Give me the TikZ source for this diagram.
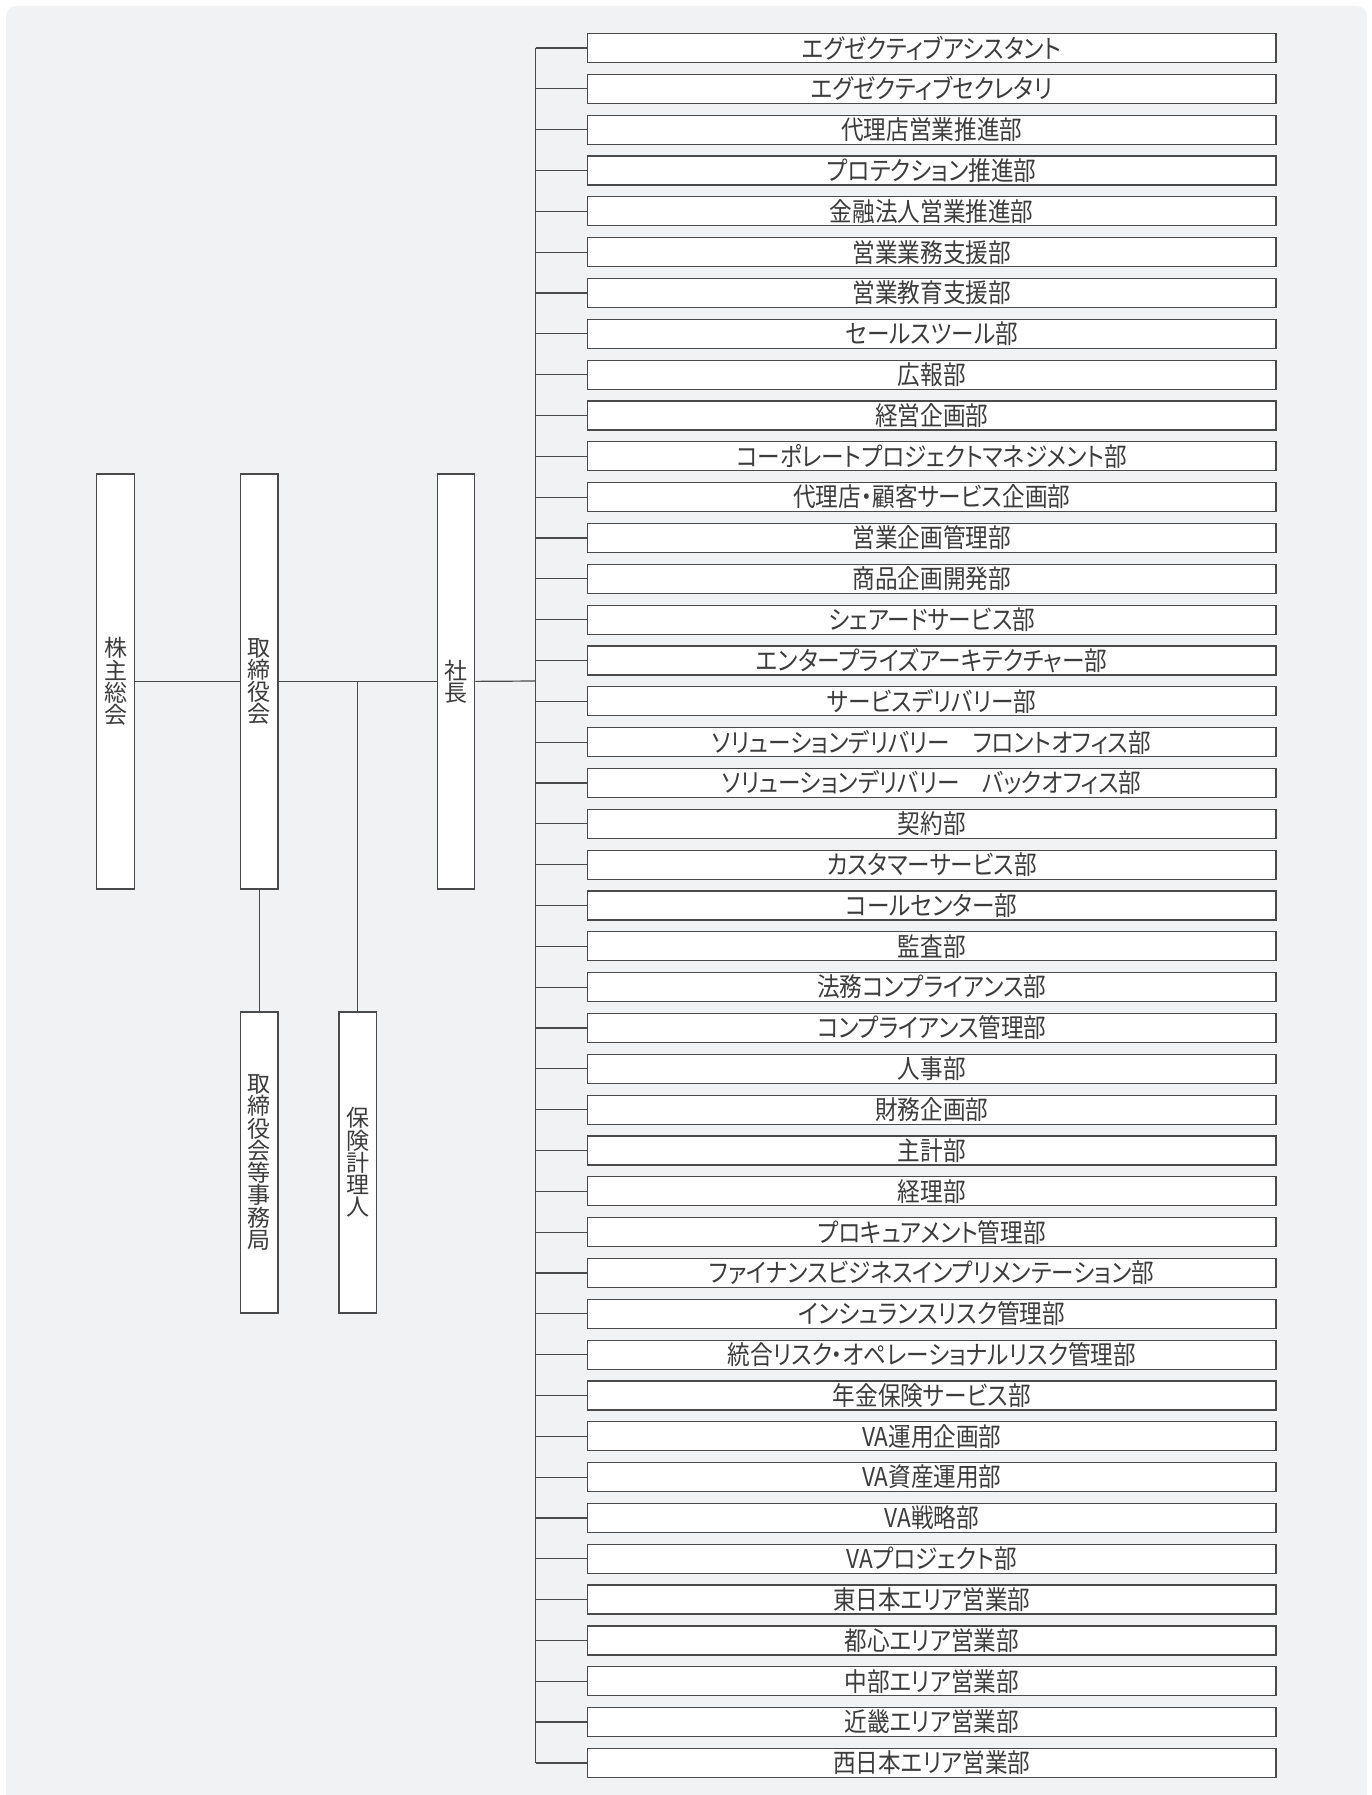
\documentclass[tikz,border=0pt]{standalone}
\usepackage{fontspec}
\newfontfamily\jpfont{Noto Sans CJK JP}
\newfontfamily\jpnarrow[FakeStretch=0.87,RawFeature=+palt]{Noto Sans CJK JP}
\definecolor{bgfill}{HTML}{F1F2F4}
\definecolor{linegray}{HTML}{4A4A4A}
\definecolor{textgray}{HTML}{3C3C3C}
\begin{document}
\begin{tikzpicture}[x=1pt,y=-1pt,
  dept/.style={draw=linegray,line width=1.2pt,fill=white,minimum width=688.5pt,minimum height=29pt,inner sep=0pt,font=\jpnarrow\fontsize{26}{26}\selectfont,text=textgray},
  pillar/.style={draw=linegray,line width=1.2pt,fill=white,minimum width=37.5pt,inner sep=0pt,align=center,font=\jpfont\fontsize{23}{22.3}\selectfont,text=textgray},
  link/.style={draw=linegray,line width=1.2pt}]
\useasboundingbox (0,0) rectangle (1371,1795);
\fill[bgfill,rounded corners=10pt] (6,6) rectangle (1367,1815);
% left column
\node[pillar,minimum height=415pt] (agm) at (115.5,681.5) {株\\主\\総\\会};
\node[pillar,minimum height=415pt] (board) at (259.3,681.5) {取\\締\\役\\会};
\node[pillar,minimum height=415pt] (pres) at (456,681.5) {社\\長};
\node[pillar,minimum height=301pt] (sec) at (259.3,1162.5) {取\\締\\役\\会\\等\\事\\務\\局};
\node[pillar,minimum height=301pt] (act) at (357.7,1162.5) {保\\険\\計\\理\\人};
\coordinate (bus) at (535.5,681);
% departments
\node[dept] (d1) at (931.75,48.0) {エグゼクティブアシスタント};
\node[dept] (d2) at (931.75,88.8) {エグゼクティブセクレタリ};
\node[dept] (d3) at (931.75,129.7) {代理店営業推進部};
\node[dept] (d4) at (931.75,170.5) {プロテクション推進部};
\node[dept] (d5) at (931.75,211.3) {金融法人営業推進部};
\node[dept] (d6) at (931.75,252.2) {営業業務支援部};
\node[dept] (d7) at (931.75,293.0) {営業教育支援部};
\node[dept] (d8) at (931.75,333.8) {セールスツール部};
\node[dept] (d9) at (931.75,374.6) {広報部};
\node[dept] (d10) at (931.75,415.5) {経営企画部};
\node[dept] (d11) at (931.75,456.3) {コーポレートプロジェクトマネジメント部};
\node[dept] (d12) at (931.75,497.1) {代理店・顧客サービス企画部};
\node[dept] (d13) at (931.75,538.0) {営業企画管理部};
\node[dept] (d14) at (931.75,578.8) {商品企画開発部};
\node[dept] (d15) at (931.75,619.6) {シェアードサービス部};
\node[dept] (d16) at (931.75,660.5) {エンタープライズアーキテクチャー部};
\node[dept] (d17) at (931.75,701.3) {サービスデリバリー部};
\node[dept] (d18) at (931.75,742.1) {ソリューションデリバリー　フロントオフィス部};
\node[dept] (d19) at (931.75,782.9) {ソリューションデリバリー　バックオフィス部};
\node[dept] (d20) at (931.75,823.8) {契約部};
\node[dept] (d21) at (931.75,864.6) {カスタマーサービス部};
\node[dept] (d22) at (931.75,905.4) {コールセンター部};
\node[dept] (d23) at (931.75,946.3) {監査部};
\node[dept] (d24) at (931.75,987.1) {法務コンプライアンス部};
\node[dept] (d25) at (931.75,1027.9) {コンプライアンス管理部};
\node[dept] (d26) at (931.75,1068.8) {人事部};
\node[dept] (d27) at (931.75,1109.6) {財務企画部};
\node[dept] (d28) at (931.75,1150.4) {主計部};
\node[dept] (d29) at (931.75,1191.2) {経理部};
\node[dept] (d30) at (931.75,1232.1) {プロキュアメント管理部};
\node[dept] (d31) at (931.75,1272.9) {ファイナンスビジネスインプリメンテーション部};
\node[dept] (d32) at (931.75,1313.7) {インシュランスリスク管理部};
\node[dept] (d33) at (931.75,1354.6) {統合リスク・オペレーショナルリスク管理部};
\node[dept] (d34) at (931.75,1395.4) {年金保険サービス部};
\node[dept] (d35) at (931.75,1436.2) {VA運用企画部};
\node[dept] (d36) at (931.75,1477.1) {VA資産運用部};
\node[dept] (d37) at (931.75,1517.9) {VA戦略部};
\node[dept] (d38) at (931.75,1558.7) {VAプロジェクト部};
\node[dept] (d39) at (931.75,1599.5) {東日本エリア営業部};
\node[dept] (d40) at (931.75,1640.4) {都心エリア営業部};
\node[dept] (d41) at (931.75,1681.2) {中部エリア営業部};
\node[dept] (d42) at (931.75,1722.0) {近畿エリア営業部};
\node[dept] (d43) at (931.75,1762.9) {西日本エリア営業部};
% connectors
\draw[link] (agm)--(board); \draw[link] (board)--(pres); \draw[link] (pres)--(bus);
\draw[link] (board)--(sec); \draw[link] (act.north)--(act.north |- bus);
\draw[link] (bus |- d1)--(bus |- d43);
\draw[link] (bus |- d1)--(d1); \draw[link] (bus |- d2)--(d2); \draw[link] (bus |- d3)--(d3); \draw[link] (bus |- d4)--(d4);
\draw[link] (bus |- d5)--(d5); \draw[link] (bus |- d6)--(d6); \draw[link] (bus |- d7)--(d7); \draw[link] (bus |- d8)--(d8);
\draw[link] (bus |- d9)--(d9); \draw[link] (bus |- d10)--(d10); \draw[link] (bus |- d11)--(d11); \draw[link] (bus |- d12)--(d12);
\draw[link] (bus |- d13)--(d13); \draw[link] (bus |- d14)--(d14); \draw[link] (bus |- d15)--(d15); \draw[link] (bus |- d16)--(d16);
\draw[link] (bus |- d17)--(d17); \draw[link] (bus |- d18)--(d18); \draw[link] (bus |- d19)--(d19); \draw[link] (bus |- d20)--(d20);
\draw[link] (bus |- d21)--(d21); \draw[link] (bus |- d22)--(d22); \draw[link] (bus |- d23)--(d23); \draw[link] (bus |- d24)--(d24);
\draw[link] (bus |- d25)--(d25); \draw[link] (bus |- d26)--(d26); \draw[link] (bus |- d27)--(d27); \draw[link] (bus |- d28)--(d28);
\draw[link] (bus |- d29)--(d29); \draw[link] (bus |- d30)--(d30); \draw[link] (bus |- d31)--(d31); \draw[link] (bus |- d32)--(d32);
\draw[link] (bus |- d33)--(d33); \draw[link] (bus |- d34)--(d34); \draw[link] (bus |- d35)--(d35); \draw[link] (bus |- d36)--(d36);
\draw[link] (bus |- d37)--(d37); \draw[link] (bus |- d38)--(d38); \draw[link] (bus |- d39)--(d39); \draw[link] (bus |- d40)--(d40);
\draw[link] (bus |- d41)--(d41); \draw[link] (bus |- d42)--(d42); \draw[link] (bus |- d43)--(d43);
\end{tikzpicture}
\end{document}
